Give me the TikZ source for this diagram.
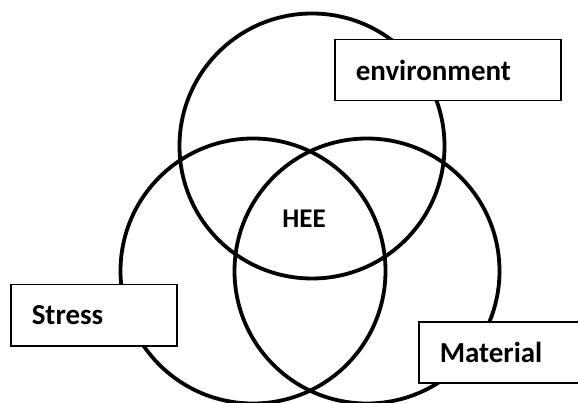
\documentclass[tikz,border=0pt]{standalone}
\usepackage{fontspec}
\setmainfont{Carlito}

\begin{document}
\begin{tikzpicture}[x=1pt, y=-1pt, font=\bfseries\fontsize{29}{34}\selectfont,
  set/.style={draw, circle, line width=3.8pt, minimum size=265pt, inner sep=0pt},
  tag/.style={draw, fill=white, line width=1.5pt, anchor=north west, align=left,
              inner xsep=21pt, inner ysep=0pt, minimum height=61pt}]

\useasboundingbox (0,0) rectangle (578,403);

% the three overlapping sets
\node[set] (envset)    at (312,146) {};
\node[set] (stressset) at (253,271) {};
\node[set] (matset)    at (367,271) {};

\node (hee) at (304,219) {\fontsize{27}{30}\selectfont HEE};

% labels sit on top of the rims
\node[tag, text width=184pt] (env)    at (334,39)  {environment};
\node[tag, text width=124pt] (stress) at (10,284)  {Stress};
\node[tag, text width=140pt] (mat)    at (418,321) {Material};

\end{tikzpicture}
\end{document}
